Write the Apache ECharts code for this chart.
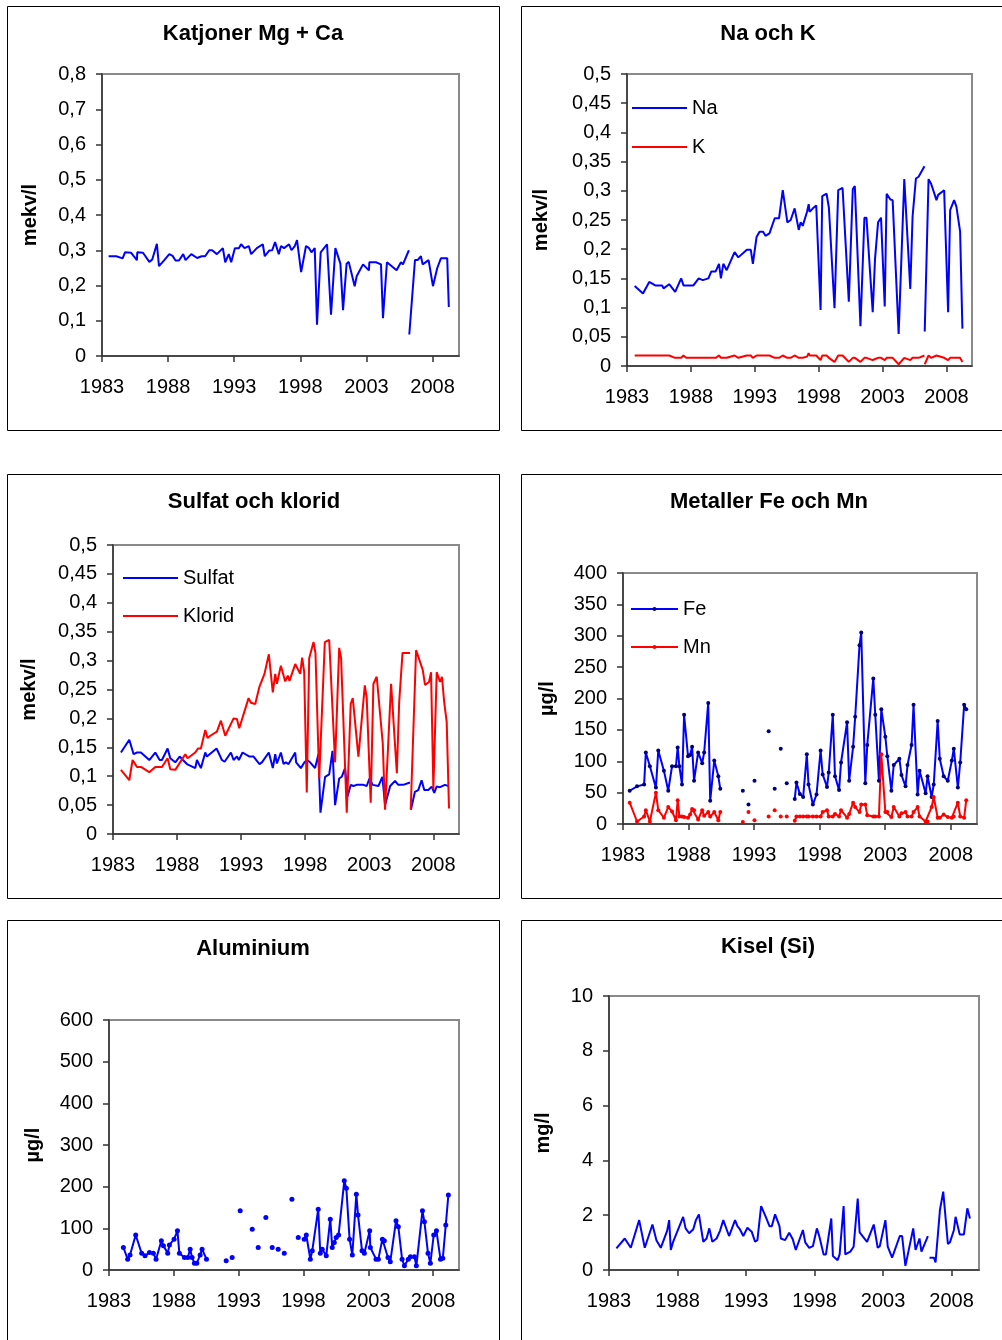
<!DOCTYPE html>
<html>
<head>
<meta charset="utf-8">
<script src="https://cdn.jsdelivr.net/npm/echarts@6/dist/echarts.min.js"></script>
<style>
  html, body { margin: 0; padding: 0; background: #fff; }
  #main { width: 1002px; height: 1340px; }
</style>
</head>
<body>
<div id="main"></div>
<script>
// tick years shared by all six panels
var xTickYears = [1983, 1988, 1993, 1998, 2003, 2008];

// Katjoner Mg + Ca (mekv/l)
var mgcaYears = [1983.50, 1984.08, 1984.56, 1984.74, 1985.19, 1985.64, 1985.67, 1986.10, 1986.58, 1986.80,
  1987.15, 1987.31, 1987.71, 1988.09, 1988.34, 1988.56, 1988.82, 1989.14, 1989.32, 1989.75,
  1990.20, 1990.53, 1990.80, 1991.11, 1991.33, 1991.69, 1992.14, 1992.32, 1992.59, 1992.77,
  1993.05, 1993.35, 1993.52, 1993.78, 1994.10, 1994.28, 1994.71, 1995.16, 1995.31, 1995.64,
  1995.87, 1996.09, 1996.37, 1996.54, 1996.77, 1997.15, 1997.33, 1997.58, 1997.75, 1998.06,
  1998.43, 1998.66, 1998.84, 1999.09, 1999.26, 1999.54, 2000.02, 2000.32, 2000.65, 2000.77,
  2001.03, 2001.23, 2001.50, 2001.66, 2002.11, 2002.26, 2002.74, 2003.19, 2003.22, 2003.72,
  2004.10, 2004.25, 2004.55, 2005.28, 2005.61, 2005.76, 2006.21, 2006.22, 2006.24, 2006.67,
  2006.87, 2007.12, 2007.25, 2007.70, 2008.03, 2008.35, 2008.63, 2008.76, 2009.11, 2009.23];
var mgcaValues = [0.283, 0.283, 0.277, 0.294, 0.293, 0.272, 0.294, 0.293, 0.267, 0.274,
  0.318, 0.255, 0.272, 0.289, 0.284, 0.271, 0.271, 0.289, 0.272, 0.289,
  0.278, 0.283, 0.283, 0.300, 0.300, 0.289, 0.306, 0.266, 0.289, 0.266,
  0.306, 0.306, 0.317, 0.306, 0.312, 0.289, 0.306, 0.317, 0.283, 0.299,
  0.300, 0.323, 0.289, 0.312, 0.306, 0.317, 0.300, 0.312, 0.329, 0.238,
  0.312, 0.306, 0.294, 0.306, 0.089, 0.294, 0.317, 0.117, 0.306, 0.306,
  0.262, 0.130, 0.262, 0.267, 0.198, 0.226, 0.260, 0.243, 0.266, 0.266,
  0.260, 0.107, 0.266, 0.243, 0.266, 0.260, 0.300, null, 0.061, 0.272,
  0.272, 0.283, 0.260, 0.272, 0.198, 0.249, 0.277, 0.272, 0.277, 0.139];

// Na och K (mekv/l)
var naKYears = [1983.60, 1984.25, 1984.74, 1985.21, 1985.75, 1985.86, 1986.30, 1986.77, 1987.24, 1987.42,
  1987.63, 1988.20, 1988.61, 1988.93, 1989.37, 1989.60, 1989.94, 1990.20, 1990.35, 1990.54,
  1990.80, 1991.42, 1991.71, 1992.38, 1992.69, 1992.85, 1993.14, 1993.37, 1993.65, 1993.84,
  1994.15, 1994.56, 1994.90, 1995.19, 1995.55, 1995.81, 1996.12, 1996.44, 1996.59, 1996.75,
  1997.09, 1997.22, 1997.29, 1997.55, 1997.81, 1998.15, 1998.28, 1998.62, 1998.80, 1999.24,
  1999.53, 1999.87, 2000.36, 2000.67, 2000.83, 2001.27, 2001.58, 2001.74, 2002.23, 2002.41,
  2002.65, 2002.88, 2003.17, 2003.32, 2003.61, 2003.79, 2004.26, 2004.70, 2005.17, 2005.35,
  2005.61, 2005.82, 2006.28, 2006.29, 2006.30, 2006.60, 2006.80, 2007.22, 2007.35, 2007.82,
  2008.13, 2008.29, 2008.60, 2008.78, 2009.07, 2009.25];
var naValues = [0.137, 0.124, 0.144, 0.138, 0.138, 0.133, 0.140, 0.127, 0.150, 0.138,
  0.138, 0.138, 0.150, 0.147, 0.150, 0.162, 0.162, 0.175, 0.150, 0.175,
  0.164, 0.195, 0.186, 0.199, 0.199, 0.175, 0.221, 0.230, 0.230, 0.223,
  0.227, 0.253, 0.253, 0.301, 0.246, 0.250, 0.270, 0.233, 0.246, 0.240,
  0.264, 0.277, 0.264, 0.270, 0.275, 0.096, 0.291, 0.295, 0.271, 0.099,
  0.301, 0.305, 0.110, 0.303, 0.308, 0.068, 0.254, 0.254, 0.092, 0.183,
  0.246, 0.254, 0.102, 0.295, 0.285, 0.284, 0.055, 0.320, 0.132, 0.256,
  0.321, 0.324, 0.342, null, 0.059, 0.320, 0.312, 0.284, 0.293, 0.301,
  0.092, 0.267, 0.284, 0.273, 0.230, 0.064];
var kValues = [0.018, 0.018, 0.018, 0.018, 0.018, 0.018, 0.018, 0.014, 0.014, 0.018,
  0.014, 0.014, 0.014, 0.014, 0.014, 0.014, 0.014, 0.018, 0.014, 0.014,
  0.014, 0.018, 0.014, 0.018, 0.018, 0.014, 0.018, 0.018, 0.018, 0.018,
  0.018, 0.014, 0.014, 0.018, 0.014, 0.014, 0.018, 0.014, 0.014, 0.014,
  0.016, 0.022, 0.018, 0.018, 0.018, 0.010, 0.018, 0.018, 0.014, 0.007,
  0.018, 0.018, 0.007, 0.014, 0.014, 0.007, 0.014, 0.014, 0.010, 0.012,
  0.014, 0.014, 0.010, 0.014, 0.014, 0.014, 0.003, 0.014, 0.010, 0.014,
  0.014, 0.014, 0.018, null, 0.003, 0.018, 0.014, 0.018, 0.016, 0.014,
  0.010, 0.014, 0.014, 0.014, 0.014, 0.007];

// Sulfat och klorid (mekv/l)
var sulfatYears = [1983.62, 1984.27, 1984.61, 1984.87, 1985.18, 1985.83, 1986.30, 1986.64, 1986.82, 1987.26,
  1987.47, 1987.86, 1988.20, 1988.46, 1988.77, 1989.42, 1989.55, 1989.86, 1990.20, 1990.33,
  1991.08, 1991.50, 1991.71, 1992.20, 1992.41, 1992.67, 1992.82, 1993.11, 1993.65, 1993.97,
  1994.43, 1994.62, 1995.16, 1995.47, 1995.66, 1995.79, 1996.10, 1996.31, 1996.49, 1996.70,
  1997.22, 1997.29, 1997.66, 1997.94, 1998.15, 1998.38, 1998.77, 1999.03, 1999.19, 1999.55,
  1999.87, 2000.13, 2000.33, 2000.65, 2000.85, 2001.11, 2001.30, 2001.55, 2001.76, 2002.02,
  2002.54, 2002.80, 2003.01, 2003.27, 2003.71, 2004.02, 2004.23, 2004.63, 2005.01, 2005.26,
  2005.65, 2006.17, 2006.20, 2006.25, 2006.56, 2006.82, 2007.08, 2007.29, 2007.60, 2007.87,
  2008.07, 2008.25, 2008.52, 2008.64, 2008.90, 2009.04, 2009.17];
var sulfatValues = [0.141, 0.163, 0.138, 0.141, 0.141, 0.128, 0.141, 0.128, 0.128, 0.148,
  0.131, 0.124, 0.134, 0.128, 0.121, 0.114, 0.128, 0.114, 0.141, 0.134,
  0.148, 0.128, 0.125, 0.141, 0.128, 0.134, 0.128, 0.141, 0.134, 0.134,
  0.121, 0.124, 0.141, 0.114, 0.138, 0.122, 0.141, 0.121, 0.124, 0.121,
  0.141, 0.124, 0.114, 0.124, 0.128, 0.124, 0.114, 0.138, 0.037, 0.099,
  0.103, 0.144, 0.050, 0.096, 0.099, 0.114, 0.065, 0.085, 0.083, 0.085,
  0.085, 0.083, 0.096, 0.085, 0.083, 0.099, 0.050, 0.083, 0.092, 0.085,
  0.085, 0.089, null, 0.042, 0.073, 0.076, 0.093, 0.076, 0.076, 0.082,
  0.071, 0.082, 0.081, 0.082, 0.085, 0.083, 0.083];
var kloridYears = [1983.62, 1984.27, 1984.53, 1984.87, 1985.18, 1985.83, 1986.30, 1986.82, 1987.26, 1987.47,
  1987.86, 1988.64, 1988.82, 1989.42, 1989.63, 1989.86, 1990.20, 1990.38, 1990.59, 1991.11,
  1991.42, 1991.76, 1992.41, 1992.67, 1992.85, 1993.58, 1993.76, 1994.10, 1994.43, 1994.82,
  1995.16, 1995.47, 1995.66, 1995.79, 1996.10, 1996.44, 1996.64, 1996.77, 1997.22, 1997.61,
  1997.76, 1997.92, 1998.12, 1998.31, 1998.65, 1998.80, 1999.09, 1999.53, 1999.87, 2000.33,
  2000.65, 2000.80, 2001.24, 2001.55, 2001.71, 2002.15, 2002.65, 2002.80, 2003.11, 2003.32,
  2003.58, 2004.05, 2004.23, 2004.70, 2005.15, 2005.33, 2005.59, 2006.18, 2006.20, 2006.23,
  2006.65, 2007.17, 2007.35, 2007.66, 2007.82, 2008.00, 2008.26, 2008.52, 2008.67, 2008.85,
  2009.04, 2009.22];
var kloridValues = [0.111, 0.093, 0.128, 0.116, 0.116, 0.107, 0.116, 0.116, 0.131, 0.112,
  0.111, 0.138, 0.131, 0.141, 0.148, 0.148, 0.180, 0.166, 0.170, 0.177,
  0.196, 0.170, 0.200, 0.199, 0.183, 0.235, 0.227, 0.225, 0.255, 0.277,
  0.311, 0.245, 0.277, 0.260, 0.291, 0.264, 0.274, 0.265, 0.294, 0.277,
  0.305, 0.280, 0.072, 0.304, 0.332, 0.313, 0.096, 0.332, 0.336, 0.124,
  0.322, 0.304, 0.037, 0.225, 0.235, 0.134, 0.257, 0.235, 0.054, 0.260,
  0.272, 0.157, 0.042, 0.260, 0.105, 0.227, 0.313, 0.313, null, 0.042,
  0.318, 0.284, 0.258, 0.263, 0.280, 0.078, 0.280, 0.263, 0.272, 0.227,
  0.194, 0.044];

// Metaller Fe och Mn (µg/l)
var metYears = [1983.51, 1984.07, 1984.61, 1984.74, 1985.05, 1985.51, 1985.69, 1986.12, 1986.45, 1986.74,
  1987.04, 1987.17, 1987.30, 1987.50, 1987.66, 1987.96, 1988.12, 1988.27, 1988.42, 1988.73,
  1989.04, 1989.19, 1989.50, 1989.65, 1989.96, 1990.27, 1990.42,
  1991.30, 1992.14, 1992.35, 1992.57, 1992.80, 1993.03, 1993.60, 1994.11, 1994.35, 1994.57,
  1994.80, 1995.03, 1995.25, 1995.49, 1995.80,
  1996.10, 1996.23, 1996.49, 1996.74, 1997.02, 1997.15, 1997.48, 1997.76, 1998.07, 1998.23,
  1998.56, 1998.69, 1999.00, 1999.17, 1999.48, 1999.63, 2000.09, 2000.25, 2000.55, 2000.71,
  2001.04, 2001.17, 2001.48, 2001.63, 2002.09, 2002.24, 2002.52, 2002.70, 2003.01, 2003.16,
  2003.47, 2003.65, 2004.08, 2004.24, 2004.55, 2004.70, 2005.01, 2005.16, 2005.47, 2005.62,
  2006.08, 2006.23, 2006.54, 2006.70, 2007.00, 2007.16, 2007.46, 2007.77, 2008.08, 2008.23,
  2008.54, 2008.72, 2009.02, 2009.18];
var feValues = [53, 60, 63, 114, 92, 58, 117, 85, 53, 92,
  92, 122, 92, 63, 174, 108, 110, 123, 69, 114,
  97, 114, 193, 37, 101, 76, 56,
  null, 53, null, 31, null, 69, null, 148, null, 56,
  null, 120, null, 65, null,
  40, 66, 48, 43, 111, 63, 31, 47, 117, 79,
  59, 82, 174, 76, 54, 98, 162, 69, 123, 171,
  285, 305, 65, 126, 232, 174, 69, 183, 139, 108,
  53, 94, 104, 78, 60, 94, 126, 190, 47, 85,
  49, 76, 43, 63, 164, 104, 76, 69, 101, 120,
  58, 98, 190, 183];
var mnValues = [34, 4, 12, 22, 4, 50, 22, 10, 27, 20,
  6, 38, 12, 12, 11, 10, 15, 24, 22, 7,
  22, 13, 19, 12, 19, 6, 19,
  null, 3, null, 19, null, 6, null, 12, null, 22,
  null, 12, null, 12, null,
  5, 12, 12, 12, 12, 12, 12, 12, 12, 19,
  22, 12, 12, 16, 12, 22, 10, 16, 34, 27,
  19, 31, 31, 14, 12, 12, 12, 111, 19, 19,
  11, 27, 12, 17, 19, 12, 12, 19, 27, 12,
  4, 4, 27, 43, 10, 10, 15, 11, 10, 12,
  34, 12, 10, 38];

// Aluminium (µg/l)
var alYears = [1984.11, 1984.44, 1984.62, 1985.06, 1985.52, 1985.78, 1986.12, 1986.42, 1986.63, 1987.04,
  1987.20, 1987.53, 1987.66, 1988.02, 1988.28, 1988.43, 1988.82, 1989.08, 1989.26, 1989.41,
  1989.59, 1989.77, 1990.03, 1990.18, 1990.52,
  1991.30, 1992.04, 1992.30, 1992.50, 1992.80, 1993.12, 1993.60, 1994.05, 1994.30, 1994.51,
  1994.80, 1995.10, 1995.35, 1995.59, 1995.80, 1996.05, 1996.30, 1996.52, 1996.80, 1997.11,
  1997.35, 1997.60, 1997.85,
  1998.06, 1998.22, 1998.53, 1998.68, 1999.14, 1999.30, 1999.45, 1999.76, 2000.07, 2000.22,
  2000.38, 2000.53, 2000.71, 2001.15, 2001.31, 2001.56, 2001.77, 2002.08, 2002.21, 2002.52,
  2002.70, 2003.11, 2003.16, 2003.60, 2003.78, 2004.09, 2004.24, 2004.52, 2004.70, 2005.14,
  2005.32, 2005.61, 2005.79, 2006.09, 2006.25, 2006.56, 2006.71, 2007.18, 2007.33, 2007.61,
  2007.79, 2008.05, 2008.26, 2008.57, 2008.75, 2008.98, 2009.18];
var alValues = [54, 26, 36, 84, 40, 34, 42, 40, 26, 70,
  58, 40, 60, 74, 94, 40, 30, 30, 50, 30,
  16, 16, 36, 50, 26,
  null, 22, null, 30, null, 142, null, 98, null, 54,
  null, 126, null, 54, null, 50, null, 40, null, 170,
  null, 78, null,
  74, 84, 26, 46, 146, 40, 50, 34, 122, 54,
  66, 78, 84, 214, 196, 74, 36, 182, 132, 46,
  40, 94, 54, 26, 26, 74, 70, 30, 20, 118,
  104, 26, 10, 26, 32, 32, 10, 142, 116, 40,
  16, 84, 94, 26, 28, 108, 180];

// Kisel (Si) (mg/l)
var siYears = [1983.54, 1984.15, 1984.59, 1985.20, 1985.61, 1986.17, 1986.46, 1986.78, 1987.24, 1987.39,
  1987.51, 1987.68, 1988.41, 1988.59, 1988.85, 1989.15, 1989.34, 1989.56, 1989.88, 1990.12,
  1990.32, 1990.54, 1990.85, 1991.10, 1991.34, 1991.76, 1992.20, 1992.37, 1992.56, 1992.80,
  1993.10, 1993.41, 1993.66, 1993.83, 1994.10, 1994.44, 1994.71, 1994.88, 1995.12, 1995.44,
  1995.54, 1995.85, 1996.15, 1996.41, 1996.63, 1996.76, 1997.15, 1997.32, 1997.61, 1997.88,
  1998.17, 1998.34, 1998.66, 1998.83, 1999.22, 1999.34, 1999.68, 1999.83, 2000.12, 2000.24,
  2000.61, 2000.85, 2001.15, 2001.29, 2001.83, 2002.32, 2002.61, 2002.76, 2003.17, 2003.34,
  2003.66, 2003.78, 2004.22, 2004.39, 2004.63, 2005.20, 2005.37, 2005.66, 2005.80, 2006.27,
  2006.33, 2006.39, 2006.71, 2006.83, 2007.15, 2007.39, 2007.73, 2007.88, 2008.17, 2008.29,
  2008.59, 2008.90, 2009.15, 2009.34];
var siValues = [0.79, 1.15, 0.81, 1.82, 0.81, 1.66, 1.09, 0.81, 1.43, 1.82,
  0.73, 1.03, 1.94, 1.52, 1.34, 1.49, 1.82, 2.03, 1.03, 1.15,
  1.52, 1.03, 1.15, 1.43, 1.82, 1.24, 1.82, 1.60, 1.48, 1.24,
  1.54, 1.40, 1.03, 1.09, 2.33, 1.94, 1.60, 1.60, 2.03, 1.60,
  1.15, 1.09, 1.36, 1.12, 0.73, 0.73, 1.46, 1.01, 0.81, 0.87,
  1.52, 1.24, 0.57, 0.57, 1.88, 0.51, 0.36, 0.57, 2.33, 0.57,
  0.67, 0.85, 2.61, 1.37, 1.03, 1.66, 0.81, 0.87, 1.82, 0.85,
  0.45, 0.45, 1.24, 1.24, 0.15, 1.52, 0.73, 1.15, 0.67, 1.24,
  null, 0.45, 0.45, 0.28, 2.19, 2.86, 0.95, 1.01, 1.46, 1.94,
  1.30, 1.30, 2.25, 1.88];

var FONT = 'Liberation Sans, Arial, sans-serif';
var BLUE = '#0000ff', RED = '#ff0000', NAVY = '#000080';

function pairs(years, values) {
  return years.map(function (y, i) { return [y, values[i]]; });
}
function commaFmt(v) {
  if (v === 0) return '0';
  return String(Math.round(v * 100) / 100).replace('.', ',');
}

// panel layout: plot rectangle, y scale and axis name
var panels = [
  {title: 'Katjoner Mg + Ca', cx: 253, ty: 23, grid: {left: 102, top: 74, width: 357, height: 282}, max: 0.8, step: 0.1, unit: 'mekv/l', gap: 62, comma: true},
  {title: 'Na och K', cx: 768, ty: 23, grid: {left: 627, top: 74, width: 345, height: 292}, max: 0.5, step: 0.05, unit: 'mekv/l', gap: 76, comma: true},
  {title: 'Sulfat och klorid', cx: 254, ty: 491, grid: {left: 113, top: 545, width: 346, height: 289}, max: 0.5, step: 0.05, unit: 'mekv/l', gap: 74, comma: true},
  {title: 'Metaller Fe och Mn', cx: 769, ty: 491, grid: {left: 623, top: 573, width: 354, height: 251}, max: 400, step: 50, unit: 'µg/l', gap: 66, comma: false},
  {title: 'Aluminium', cx: 253, ty: 938, grid: {left: 109, top: 1020, width: 350, height: 250}, max: 600, step: 100, unit: 'µg/l', gap: 66, comma: false},
  {title: 'Kisel (Si)', cx: 768, ty: 936, grid: {left: 609, top: 996, width: 370, height: 274}, max: 10, step: 2, unit: 'mg/l', gap: 56, comma: false}
];

var axisLine = {show: true, onZero: false, lineStyle: {color: '#333', width: 1.5}};
var legendText = {fontSize: 20, color: '#000', fontFamily: FONT};

var option = {
  animation: false,
  backgroundColor: '#fff',
  textStyle: {fontFamily: FONT},
  title: panels.map(function (p) {
    return {
      text: p.title, left: p.cx, top: p.ty, textAlign: 'center', padding: 0,
      textStyle: {fontSize: 22, fontWeight: 'bold', color: '#000', fontFamily: FONT}
    };
  }),
  grid: panels.map(function (p) {
    return {
      left: p.grid.left, top: p.grid.top, width: p.grid.width, height: p.grid.height,
      show: true, backgroundColor: '#fff', borderColor: '#8a8a8a', borderWidth: 2,
      containLabel: false, outerBoundsMode: 'none'
    };
  }),
  xAxis: panels.map(function (p, i) {
    return {
      type: 'value', gridIndex: i, min: 1983, max: 2010,
      axisLine: axisLine,
      axisTick: {show: true, length: 6, customValues: xTickYears, lineStyle: {color: '#333', width: 1.5}},
      axisLabel: {customValues: xTickYears, fontSize: 20, color: '#000', margin: 21, fontFamily: FONT,
        formatter: function (v) { return String(v); }},
      splitLine: {show: false}
    };
  }),
  yAxis: panels.map(function (p, i) {
    return {
      type: 'value', gridIndex: i, min: 0, max: p.max, interval: p.step,
      name: p.unit, nameLocation: 'middle', nameRotate: 90, nameGap: p.gap,
      nameTextStyle: {fontSize: 20, fontWeight: 'bold', color: '#000', fontFamily: FONT},
      axisLine: axisLine,
      axisTick: {show: true, length: 6, lineStyle: {color: '#333', width: 1.5}},
      axisLabel: {fontSize: 20, color: '#000', margin: 16, fontFamily: FONT,
        formatter: p.comma ? commaFmt : function (v) { return String(v); }},
      splitLine: {show: false}
    };
  }),
  legend: [
    {data: [{name: 'Na', icon: 'rect'}, {name: 'K', icon: 'rect'}], orient: 'vertical', left: 632, top: 98, padding: 0,
      itemWidth: 55, itemHeight: 2, itemGap: 19, selectedMode: false, textStyle: legendText},
    {data: [{name: 'Sulfat', icon: 'rect'}, {name: 'Klorid', icon: 'rect'}], orient: 'vertical', left: 123, top: 568, padding: 0,
      itemWidth: 55, itemHeight: 2, itemGap: 18, selectedMode: false, textStyle: legendText},
    {data: ['Fe', 'Mn'], orient: 'vertical', left: 630, top: 599, padding: 0,
      itemWidth: 47, itemHeight: 5, itemGap: 18, selectedMode: false, textStyle: legendText}
  ],
  series: [
    {name: 'Mg + Ca', type: 'line', xAxisIndex: 0, yAxisIndex: 0, data: pairs(mgcaYears, mgcaValues),
      symbol: 'none', lineStyle: {color: BLUE, width: 2}, itemStyle: {color: BLUE}},
    {name: 'Na', type: 'line', xAxisIndex: 1, yAxisIndex: 1, data: pairs(naKYears, naValues),
      symbol: 'none', lineStyle: {color: BLUE, width: 2}, itemStyle: {color: BLUE}},
    {name: 'K', type: 'line', xAxisIndex: 1, yAxisIndex: 1, data: pairs(naKYears, kValues),
      symbol: 'none', lineStyle: {color: RED, width: 2}, itemStyle: {color: RED}},
    {name: 'Sulfat', type: 'line', xAxisIndex: 2, yAxisIndex: 2, data: pairs(sulfatYears, sulfatValues),
      symbol: 'none', lineStyle: {color: BLUE, width: 2}, itemStyle: {color: BLUE}},
    {name: 'Klorid', type: 'line', xAxisIndex: 2, yAxisIndex: 2, data: pairs(kloridYears, kloridValues),
      symbol: 'none', lineStyle: {color: RED, width: 2}, itemStyle: {color: RED}},
    {name: 'Fe', type: 'line', xAxisIndex: 3, yAxisIndex: 3, data: pairs(metYears, feValues),
      symbol: 'circle', symbolSize: 4, lineStyle: {color: BLUE, width: 2}, itemStyle: {color: NAVY}},
    {name: 'Mn', type: 'line', xAxisIndex: 3, yAxisIndex: 3, data: pairs(metYears, mnValues),
      symbol: 'circle', symbolSize: 4, lineStyle: {color: RED, width: 2}, itemStyle: {color: RED}},
    {name: 'Al', type: 'line', xAxisIndex: 4, yAxisIndex: 4, data: pairs(alYears, alValues),
      symbol: 'circle', symbolSize: 5, lineStyle: {color: BLUE, width: 2}, itemStyle: {color: BLUE}},
    {name: 'Si', type: 'line', xAxisIndex: 5, yAxisIndex: 5, data: pairs(siYears, siValues),
      symbol: 'none', lineStyle: {color: BLUE, width: 2}, itemStyle: {color: BLUE}}
  ],
  // frames round each panel
  graphic: [
    {type: 'rect', shape: {x: 7.5, y: 6.5, width: 492, height: 424}, style: {fill: null, stroke: '#000', lineWidth: 1}, silent: true},
    {type: 'rect', shape: {x: 521.5, y: 6.5, width: 492, height: 424}, style: {fill: null, stroke: '#000', lineWidth: 1}, silent: true},
    {type: 'rect', shape: {x: 7.5, y: 474.5, width: 492, height: 424}, style: {fill: null, stroke: '#000', lineWidth: 1}, silent: true},
    {type: 'rect', shape: {x: 521.5, y: 474.5, width: 492, height: 424}, style: {fill: null, stroke: '#000', lineWidth: 1}, silent: true},
    {type: 'rect', shape: {x: 7.5, y: 920.5, width: 492, height: 424}, style: {fill: null, stroke: '#000', lineWidth: 1}, silent: true},
    {type: 'rect', shape: {x: 521.5, y: 920.5, width: 492, height: 424}, style: {fill: null, stroke: '#000', lineWidth: 1}, silent: true}
  ]
};

var chart = echarts.init(document.getElementById('main'), null, {renderer: 'canvas'});
chart.setOption(option);
</script>
</body>
</html>
